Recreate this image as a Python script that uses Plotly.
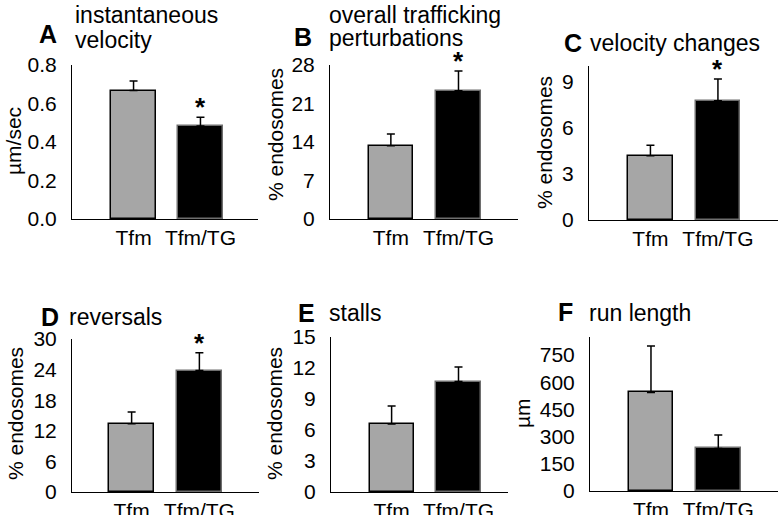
import plotly.graph_objects as go

W, H = 780, 515
FONT = "Liberation Sans, Arial, sans-serif"

categories = ["Tfm", "Tfm/TG"]

velocity = [0.667, 0.483]
velocity_err = [0.05, 0.045]

overall = [13.3, 23.3]
overall_err = [2.15, 3.6]

vel_changes = [4.18, 7.74]
vel_changes_err = [0.68, 1.41]

reversals = [13.4, 23.8]
reversals_err = [2.3, 3.5]

stalls = [6.58, 10.69]
stalls_err = [1.75, 1.41]

run_length = [544, 235]
run_length_err = [257, 74]

# panel letter, title lines, y title, values, errors, y range, tick step, significant
panels = [
    ("A", ["instantaneous", "velocity"], "\u00b5m/sec", velocity, velocity_err, [0, 0.8], 0.2, True),
    ("B", ["overall trafficking", "perturbations"], "% endosomes", overall, overall_err, [0, 28], 7, True),
    ("C", ["velocity changes"], "% endosomes", vel_changes, vel_changes_err, [0, 10], 3, True),
    ("D", ["reversals"], "% endosomes", reversals, reversals_err, [0, 30], 6, True),
    ("E", ["stalls"], "% endosomes", stalls, stalls_err, [0, 15], 3, False),
    ("F", ["run length"], "\u00b5m", run_length, run_length_err, [0, 850], 150, False),
]

# pixel boxes: x0, x1, y_top, y_bottom
boxes = [
    (72, 258, 65, 219),
    (330, 518, 65, 219),
    (589, 778, 66, 220),
    (72, 259, 339, 492),
    (331, 508, 337, 492),
    (590, 778, 337, 491),
]
xranges = [[-0.92, 1.86], [-0.9, 1.88], [-0.91, 1.89], [-0.88, 1.88], [-0.906, 1.74], [-0.906, 1.887]]
# letter x, letter y, text left x, line y centres, y-title centre
title_pos = [
    (48, 34, 73, [15, 40], (14, 141)),
    (303, 37, 327, [15, 38], (275, 135)),
    (573, 43, 588, [43], (545, 143)),
    (50, 317, 67, [317], (15, 414)),
    (306, 313, 327, [313], (274, 414)),
    (565, 312, 587, [313], (522, 413)),
]

fig = go.Figure()
annotations = []
layout = {}

for i, (letter, tlines, ytitle, vals, errs, yr, dtick, sig) in enumerate(panels):
    n = "" if i == 0 else str(i + 1)
    x0, x1, yt, yb = boxes[i]
    fig.add_trace(
        go.Bar(
            x=categories,
            y=vals,
            width=0.66,
            marker=dict(color=["#a6a6a6", "#000000"],
                        line=dict(color=["#000000", "#6e6e6e"], width=1.5)),
            error_y=dict(type="data", symmetric=False, array=errs, arrayminus=[0, 0],
                         color="black", thickness=1.5, width=4),
            xaxis="x" + n,
            yaxis="y" + n,
            showlegend=False,
        )
    )
    layout["xaxis" + n] = dict(
        domain=[x0 / W, x1 / W], anchor="y" + n, range=xranges[i],
        showline=True, linecolor="black", linewidth=1, ticks="",
        showgrid=False, tickfont=dict(size=21, color="black", family=FONT),
        ticklabelstandoff=0, automargin=False,
    )
    layout["yaxis" + n] = dict(
        domain=[1 - yb / H, 1 - yt / H], anchor="x" + n, range=yr, dtick=dtick,
        showline=True, linecolor="black", linewidth=1, ticks="", showgrid=False,
        zeroline=False, tickfont=dict(size=21, color="black", family=FONT),
        ticklabelstandoff=10, automargin=False,
        tickformat=".1f" if dtick < 1 else "d",
    )

    lx, ly0, tx, ys, (yx, yy) = title_pos[i]
    annotations.append(dict(
        text="<b>" + letter + "</b>", x=lx / W, y=1 - ly0 / H,
        xref="paper", yref="paper", showarrow=False, xanchor="center", yanchor="middle",
        font=dict(size=25, color="black", family=FONT),
    ))
    for line, ly in zip(tlines, ys):
        annotations.append(dict(
            text=line, x=tx / W, y=1 - ly / H, xref="paper", yref="paper",
            showarrow=False, xanchor="left", yanchor="middle",
            font=dict(size=23, color="black", family=FONT),
        ))
    annotations.append(dict(
        text=ytitle, x=yx / W, y=1 - yy / H, xref="paper", yref="paper",
        showarrow=False, textangle=-90, xanchor="center", yanchor="middle",
        font=dict(size=21, color="black", family=FONT),
    ))
    if sig:
        annotations.append(dict(
            text="<b>*</b>", x=categories[1], y=vals[1] + errs[1],
            xref="x" + n, yref="y" + n, showarrow=False,
            xanchor="center", yanchor="middle", yshift=10,
            font=dict(size=26, color="black", family=FONT),
        ))

fig.update_layout(
    width=W, height=H,
    margin=dict(l=0, r=0, t=0, b=0, pad=0, autoexpand=False),
    paper_bgcolor="white", plot_bgcolor="white",
    annotations=annotations,
    font=dict(family=FONT, color="black"),
    bargap=0,
    **layout,
)

# drop the default page margin so the 780x515 figure fills the window exactly
fig.write_html(
    "out.html",
    config={"displayModeBar": False},
    post_script="document.body.style.margin='0';",
)
